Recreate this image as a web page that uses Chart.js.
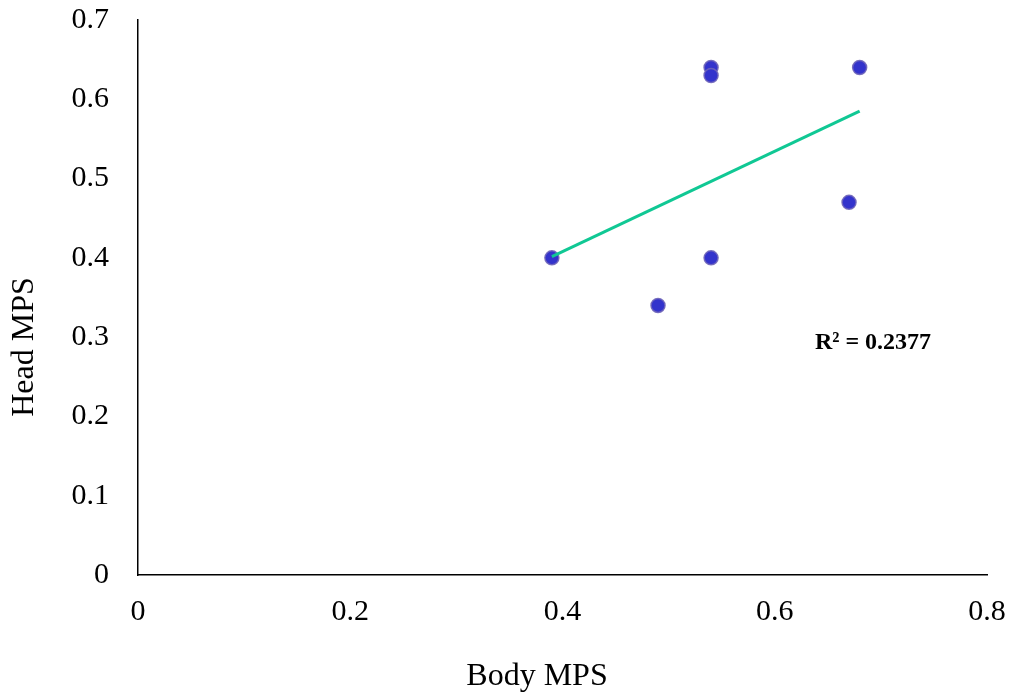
<!DOCTYPE html>
<html>
<head>
<meta charset="utf-8">
<script src="https://cdn.jsdelivr.net/npm/chart.js@4.4.1/dist/chart.umd.min.js"></script>
<style>
  html, body { margin: 0; padding: 0; background: #fff; }
  #wrap { width: 1013px; height: 700px; position: relative; }
</style>
</head>
<body>
<div id="wrap"><canvas id="c"></canvas></div>
<script>
// ---- data ----
const bodyMPS = [0.39, 0.54, 0.54, 0.68, 0.67, 0.54, 0.49];
const headMPS = [0.40, 0.64, 0.63, 0.64, 0.47, 0.40, 0.34];
const trendBody = [0.39, 0.68];
const trendHead = [0.4015, 0.5852];
const xTickValues = [0, 0.2, 0.4, 0.6, 0.8];
const yTickValues = [0, 0.1, 0.2, 0.3, 0.4, 0.5, 0.6, 0.7];
const xTitle = 'Body MPS';
const yTitle = 'Head MPS';
const r2Label = 'R² = 0.2377';

const SERIF = "'Liberation Serif', 'Times New Roman', serif";

const pointData = bodyMPS.map((x, i) => ({ x: x, y: headMPS[i] }));
const trendData = trendBody.map((x, i) => ({ x: x, y: trendHead[i] }));

const overlay = {
  id: 'overlay',
  afterDraw(chart) {
    const ctx = chart.ctx;
    ctx.save();
    ctx.fillStyle = '#000';
    // x title
    ctx.font = '32px ' + SERIF;
    ctx.textAlign = 'center';
    ctx.textBaseline = 'alphabetic';
    ctx.fillText(xTitle, 537, 685);
    // y title
    ctx.save();
    ctx.translate(33, 347);
    ctx.rotate(-Math.PI / 2);
    ctx.fillText(yTitle, 0, 0);
    ctx.restore();
    // R² label
    ctx.font = 'bold 24px ' + SERIF;
    ctx.textAlign = 'center';
    ctx.fillText(r2Label, 873, 349);
    ctx.restore();
  }
};

new Chart(document.getElementById('c'), {
  type: 'scatter',
  data: {
    datasets: [
      {
        type: 'line',
        label: 'Trend',
        data: trendData,
        borderColor: '#10c894',
        borderWidth: 3,
        pointRadius: 0,
        fill: false,
        showLine: true,
        order: 0
      },
      {
        label: 'Head MPS',
        data: pointData,
        backgroundColor: '#3333cc',
        borderColor: 'rgba(110,100,185,0.9)',
        borderWidth: 1.5,
        pointRadius: 7,
        pointHoverRadius: 7,
        order: 1
      }
    ]
  },
  plugins: [overlay],
  options: {
    responsive: true,
    maintainAspectRatio: false,
    animation: false,
    layout: { padding: { top: 20, right: 26, left: 0, bottom: 0 } },
    plugins: { legend: { display: false }, tooltip: { enabled: false } },
    scales: {
      x: {
        type: 'linear',
        min: 0, max: 0.8,
        afterBuildTicks: (s) => { s.ticks = xTickValues.map(v => ({ value: v })); },
        afterFit: (s) => { s.height = 125; s.paddingLeft = 0; s.paddingRight = 0; },
        grid: { display: false, drawTicks: false },
        border: { display: true, color: '#000', width: 1.5 },
        ticks: {
          color: '#000',
          font: { family: SERIF, size: 30 },
          padding: 19,
          maxRotation: 0,
          callback: (v) => String(Number(v.toFixed(1)))
        }
      },
      y: {
        type: 'linear',
        min: 0, max: 0.7,
        afterBuildTicks: (s) => { s.ticks = yTickValues.map(v => ({ value: v })); },
        afterFit: (s) => { s.width = 138; s.paddingTop = 0; s.paddingBottom = 0; },
        grid: { display: false, drawTicks: false },
        border: { display: true, color: '#000', width: 1.5 },
        ticks: {
          color: '#000',
          font: { family: SERIF, size: 30 },
          padding: 29,
          callback: (v) => String(Number(v.toFixed(1)))
        }
      }
    }
  }
});
</script>
</body>
</html>
